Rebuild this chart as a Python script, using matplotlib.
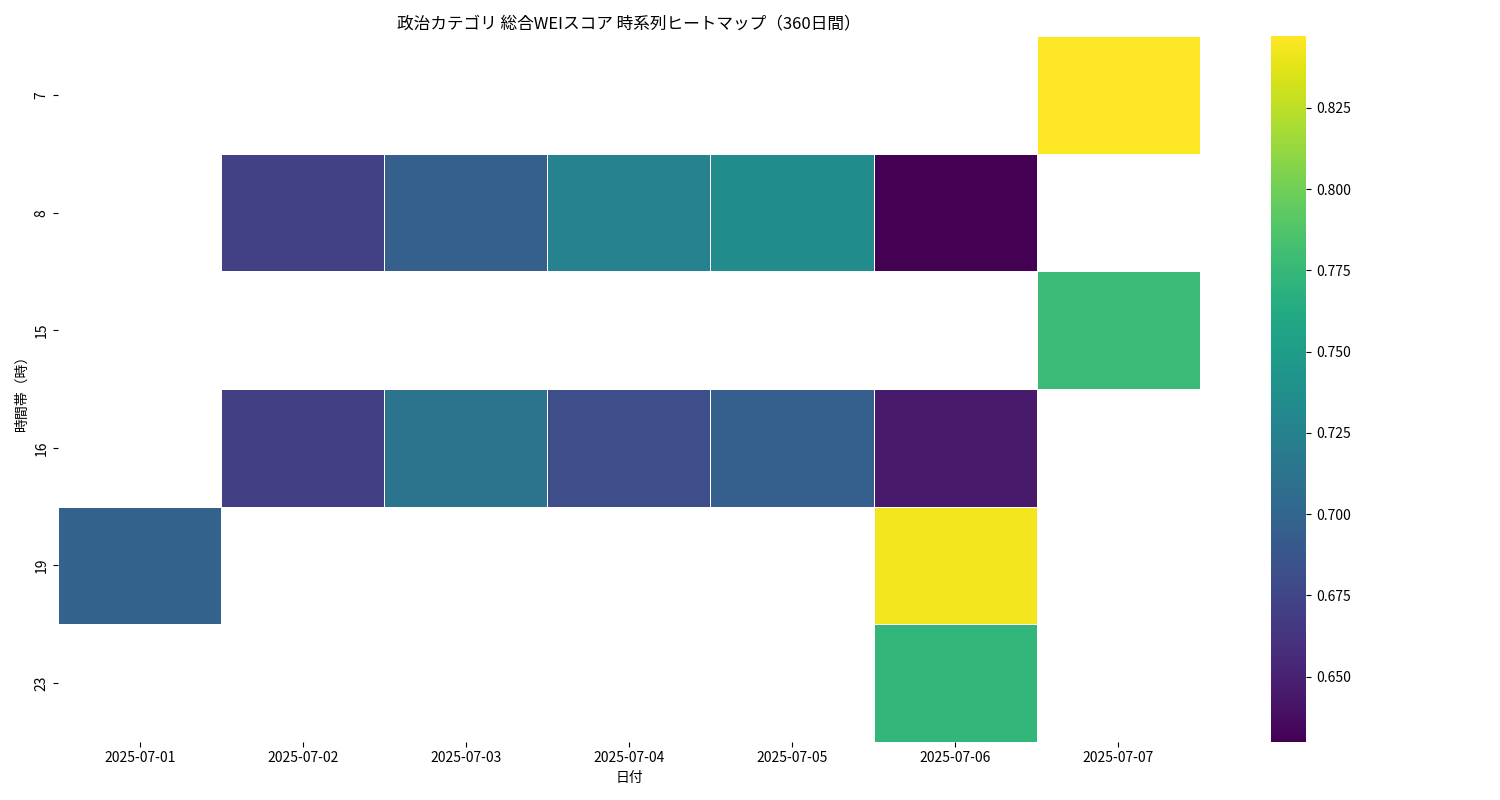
import numpy as np
import pandas as pd
import matplotlib
matplotlib.use("Agg")
import matplotlib.pyplot as plt
import seaborn as sns

plt.rcParams["font.family"] = ["Noto Sans CJK JP", "DejaVu Sans"]

dates = ["2025-07-01", "2025-07-02", "2025-07-03", "2025-07-04", "2025-07-05", "2025-07-06", "2025-07-07"]
hours = [7, 8, 15, 16, 19, 23]
nan = np.nan
row_7 = [nan, nan, nan, nan, nan, nan, 0.847]
row_8 = [nan, 0.672, 0.695, 0.725, 0.735, 0.630, nan]
row_15 = [nan, nan, nan, nan, nan, nan, 0.777]
row_16 = [nan, 0.670, 0.713, 0.681, 0.695, 0.645, nan]
row_19 = [0.698, nan, nan, nan, nan, 0.843, nan]
row_23 = [nan, nan, nan, nan, nan, 0.773, nan]

df = pd.DataFrame([row_7, row_8, row_15, row_16, row_19, row_23], index=hours, columns=dates)

fig, ax = plt.subplots(figsize=(15, 8), dpi=100)
sns.heatmap(df, cmap="viridis", linewidths=0.5, linecolor="white", ax=ax)
ax.set_title("政治カテゴリ 総合WEIスコア 時系列ヒートマップ（360日間）")
ax.set_xlabel("日付")
ax.set_ylabel("時間帯（時）")
plt.setp(ax.get_xticklabels(), rotation=0)
fig.tight_layout()
fig.savefig("out.png")
